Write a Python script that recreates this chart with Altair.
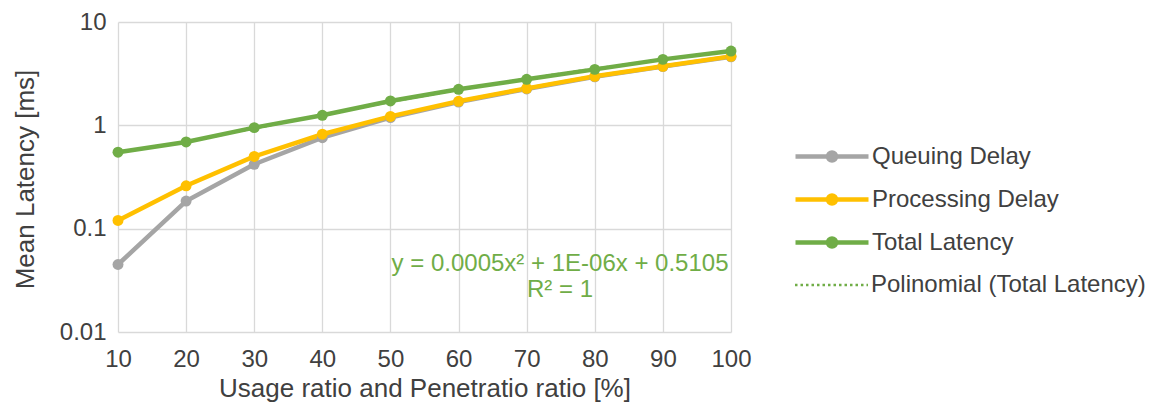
import altair as alt
import pandas as pd

# ---- data ----
x_vals = [10, 20, 30, 40, 50, 60, 70, 80, 90, 100]
queuing = [0.045, 0.185, 0.42, 0.76, 1.19, 1.68, 2.25, 2.95, 3.70, 4.60]
processing = [0.12, 0.26, 0.50, 0.82, 1.22, 1.71, 2.28, 2.98, 3.73, 4.65]
total = [0.55, 0.69, 0.95, 1.25, 1.72, 2.23, 2.79, 3.48, 4.35, 5.24]

series_names = ["Queuing Delay", "Processing Delay", "Total Latency"]
series_colors = ["#A5A5A5", "#FFC000", "#70AD47"]
trend_name = "Polinomial (Total Latency)"
trend_color = "#70AD47"

y_ticks = [0.01, 0.1, 1, 10]
x_ticks = x_vals

eq_lines = ["y = 0.0005x\u00b2 + 1E-06x + 0.5105", "R\u00b2 = 1"]
eq_x = [74.9, 74.9]
eq_y = [0.0451, 0.0253]

FONT = "Liberation Sans"
TXT = "#404040"
GRID = "#D9D9D9"

rows = []
for name, vals in zip(series_names, [queuing, processing, total]):
    for xv, yv in zip(x_vals, vals):
        rows.append({"x": xv, "y": yv, "series": name})
df = pd.DataFrame(rows)
df_total = df[df["series"] == "Total Latency"]
ann = pd.DataFrame({"x": eq_x, "y": eq_y, "t": eq_lines})

# legend symbol: unit r = sqrt(400)/2 = 10 px; line 73 px long with a dot in the middle
marker_path = "M-1,0H6.3M3.05,0A0.4,0.4,0,1,1,2.25,0A0.4,0.4,0,1,1,3.05,0Z"
dot_path = "M-1,0H6.3"

legend1 = alt.Legend(
    title=None, orient="none", legendX=675, legendY=122,
    symbolSize=400, symbolType=marker_path, symbolStrokeWidth=4.5,
    symbolOpacity=1,
    labelFont=FONT, labelFontSize=24, labelColor=TXT, labelOffset=54,
    rowPadding=16, labelLimit=400,
)
legend2 = alt.Legend(
    title=None, orient="none", legendX=675, legendY=251,
    symbolSize=400, symbolType=dot_path, symbolStrokeWidth=2.5,
    symbolStrokeColor=trend_color, symbolOpacity=1,
    labelFont=FONT, labelFontSize=24, labelColor=TXT, labelOffset=54,
    labelLimit=400,
)

color = alt.Color("series:N", scale=alt.Scale(domain=series_names, range=series_colors),
                  legend=legend1, sort=series_names)

xenc = alt.X("x:Q", scale=alt.Scale(domain=[10, 100], nice=False, zero=False),
             axis=alt.Axis(values=x_ticks, title="Usage ratio and Penetratio ratio [%]",
                           titleY=43, titleBaseline="top", titleFontSize=26,
                           labelPadding=15, labelFlush=False, format="d"))
yenc = alt.Y("y:Q", scale=alt.Scale(type="log", domain=[0.01, 10], nice=False),
             axis=alt.Axis(values=y_ticks, format="~g", title="Mean Latency [ms]",
                           titleX=-93, titleY=157, titleBaseline="middle",
                           titleFontSize=26, labelPadding=12))

base = alt.Chart(df)
lines = base.mark_line(strokeWidth=4.5).encode(x=xenc, y=yenc, color=color,
                                                 order=alt.Order("x:Q"))
points = base.mark_point(filled=True, size=120, opacity=1).encode(
    x="x:Q", y="y:Q", color=color)
trend = alt.Chart(df_total).transform_regression(
    "x", "y", method="poly", order=2, extent=[10, 100]
).transform_calculate(trend=f"'{trend_name}'").mark_line(
    strokeWidth=2.5, color=trend_color
).encode(
    x="x:Q", y="y:Q",
    strokeDash=alt.StrokeDash("trend:N", scale=alt.Scale(domain=[trend_name], range=[[2.5, 3]]),
                              legend=legend2),
)
text = alt.Chart(ann).mark_text(color="#70AD47", font=FONT, fontSize=24,
                                align="center", baseline="middle").encode(
    x="x:Q", y="y:Q", text="t:N")

chart = alt.layer(lines, points, trend, text).properties(
    width=613, height=310,
    padding={"left": 110, "top": 14, "right": 417, "bottom": 72},
    autosize="none",
).configure_view(
    stroke=None
).configure_axis(
    grid=True, gridColor=GRID, gridWidth=1.3, domain=False, ticks=False,
    labelFont=FONT, labelFontSize=24, labelColor=TXT,
    titleFont=FONT, titleColor=TXT, titleFontWeight="normal",
)

chart.save("out.html", embed_options={"renderer": "svg", "actions": False})
